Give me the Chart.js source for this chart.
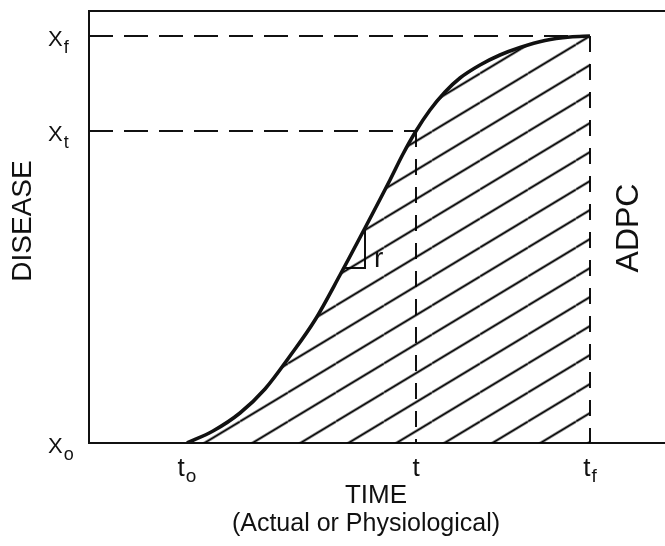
<!DOCTYPE html>
<html><head><meta charset="utf-8">
<script src="https://cdn.jsdelivr.net/npm/chart.js@4"></script>
<style>html,body{margin:0;padding:0;background:#fff}</style>
</head><body>
<canvas id="c" width="665" height="546"></canvas>
<script>
// Disease progress curve (schematic units)
const timeValues    = [9.8, 12.4, 15.1, 17.6, 20.1, 22.6, 25.1, 27.6, 30.1, 31.4, 32.7, 34.1, 35.6, 37.1, 39.1, 41.1, 43.1, 45.6, 48.1, 50.1];
const diseaseValues = [0.0, 1.2, 3.0, 5.4, 8.7, 12.3, 16.8, 21.5, 26.3, 28.9, 31.2, 33.3, 35.1, 36.5, 37.8, 38.8, 39.55, 40.25, 40.6, 40.7];
// key times and disease levels
const tickTimes       = [9.8, 32.7, 50.1];
const tickTimeMain    = ['t', 't', 't'];
const tickTimeSub     = ['o', '', 'f'];
const tickDisease     = [0, 31.2, 40.7];
const tickDiseaseMain = ['X', 'X', 'X'];
const tickDiseaseSub  = ['o', 't', 'f'];
// slope triangle "r"
const triTimes   = [25.5, 27.6, 27.6];
const triDisease = [17.5, 17.5, 21.5];
const xMax = 57.6, yMax = 43.2;

const INK = '#111111';
const FONT = "'Liberation Sans', Arial, sans-serif";

const tile = document.createElement('canvas');
tile.width = 48; tile.height = 29;
const tc = tile.getContext('2d');
tc.strokeStyle = '#000'; tc.lineWidth = 2;
for (let n = -1; n <= 1; n++) {
  tc.beginPath(); tc.moveTo(0, 29 + 29 * n); tc.lineTo(48, 29 * n); tc.stroke();
}
const ctx = document.getElementById('c').getContext('2d');
const hatch = ctx.createPattern(tile, 'repeat');

const pts = (xs, ys) => xs.map((x, i) => ({x, y: ys[i]}));
const tf = tickTimes[2], tt = tickTimes[1], xf = tickDisease[2], xt = tickDisease[1];

const hatchAlign = {
  id: 'hatchAlign',
  beforeDatasetsDraw(chart) {
    const px = chart.scales.x.getPixelForValue(tf);
    const py = chart.scales.y.getPixelForValue(xf);
    const s = 29 / 48;
    const dy = (((py + s * px) % 29) + 29) % 29;
    hatch.setTransform(new DOMMatrix([1, 0, 0, 1, 0, dy]));
  }
};

function drawSub(c, main, sub, x, base, mainSize, subSize, subDrop, align) {
  c.font = mainSize + 'px ' + FONT;
  const wm = c.measureText(main).width;
  c.font = subSize + 'px ' + FONT;
  const ws = sub ? c.measureText(sub).width + 1 : 0;
  let left = x;
  if (align === 'center') left = x - (wm + ws) / 2;
  c.textAlign = 'left'; c.textBaseline = 'alphabetic';
  c.font = mainSize + 'px ' + FONT;
  c.fillText(main, left, base);
  if (sub) { c.font = subSize + 'px ' + FONT; c.fillText(sub, left + wm + 1, base + subDrop); }
}

const labels = {
  id: 'labels',
  afterDraw(chart) {
    const c = chart.ctx, xs = chart.scales.x, ys = chart.scales.y, a = chart.chartArea;
    c.save();
    c.fillStyle = INK;
    tickDisease.forEach((v, i) => {
      const py = ys.getPixelForValue(v);
      drawSub(c, tickDiseaseMain[i], tickDiseaseSub[i], a.left - 41, py + 10, 22, 18, 7, 'left');
    });
    tickTimes.forEach((v, i) => {
      const px = xs.getPixelForValue(v);
      drawSub(c, tickTimeMain[i], tickTimeSub[i], px, a.bottom + 33, 26, 19, 6, 'center');
    });
    // r label
    c.font = '28px ' + FONT; c.textAlign = 'left';
    c.fillText('r', xs.getPixelForValue(triTimes[1]) + 9, ys.getPixelForValue(triDisease[0]) - 1);
    // axis titles
    c.textAlign = 'center'; c.textBaseline = 'middle';
    c.font = '26px ' + FONT;
    c.fillText('TIME', 376, a.bottom + 53);
    c.font = '25px ' + FONT;
    c.fillText('(Actual or Physiological)', 366, a.bottom + 81);
    c.save(); c.translate(23, 221); c.rotate(-Math.PI / 2);
    c.font = '28px ' + FONT; c.fillText('DISEASE', 0, 0); c.restore();
    c.save(); c.translate(629, 228); c.rotate(-Math.PI / 2);
    c.font = '32px ' + FONT; c.fillText('ADPC', 0, 0); c.restore();
    c.restore();
  }
};

const axisCommon = {
  type: 'linear',
  grid: {display: false, drawTicks: false},
  ticks: {display: false},
  border: {display: true, color: INK, width: 2}
};

new Chart(ctx, {
  type: 'line',
  data: {
    datasets: [
      {data: pts(timeValues, diseaseValues), borderColor: INK, borderWidth: 3.6, pointRadius: 0,
       cubicInterpolationMode: 'monotone', fill: 'origin', backgroundColor: hatch, order: 0},
      {data: pts(triTimes, triDisease), borderColor: INK, borderWidth: 2, pointRadius: 0, fill: false, tension: 0, order: 1},
      {data: pts([0, tf], [xf, xf]), borderColor: INK, borderWidth: 2, borderDash: [24, 11], pointRadius: 0, fill: false, order: 2},
      {data: pts([0, tt], [xt, xt]), borderColor: INK, borderWidth: 2, borderDash: [24, 11], pointRadius: 0, fill: false, order: 2},
      {data: pts([tt, tt], [xt, 0]), borderColor: INK, borderWidth: 2, borderDash: [16, 12], pointRadius: 0, fill: false, order: 2},
      {data: pts([tf, tf], [xf, 0]), borderColor: INK, borderWidth: 2, borderDash: [16, 12], pointRadius: 0, fill: false, order: 2}
    ]
  },
  options: {
    responsive: false, animation: false,
    layout: {padding: {left: 89, top: 11, right: 0, bottom: 103}},
    plugins: {legend: {display: false}, tooltip: {enabled: false}},
    scales: {
      x: Object.assign({}, axisCommon, {position: 'bottom', min: 0, max: xMax, afterFit(s) { s.height = 0; }}),
      xTop: Object.assign({}, axisCommon, {position: 'top', min: 0, max: xMax, afterFit(s) { s.height = 0; }}),
      y: Object.assign({}, axisCommon, {position: 'left', min: 0, max: yMax, afterFit(s) { s.width = 0; }})
    }
  },
  plugins: [hatchAlign, labels]
});
</script>
</body></html>
